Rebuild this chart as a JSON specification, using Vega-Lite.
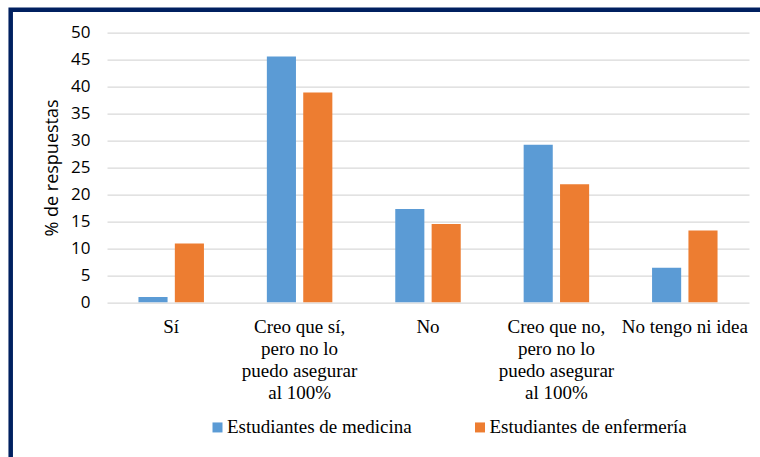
{
  "$schema": "https://vega.github.io/schema/vega-lite/v6.json",
  "autosize": "none",
  "padding": {"left": 10.7, "top": 9.7, "right": -20, "bottom": -20},
  "width": 769.3,
  "height": 467.3,
  "background": "white",
  "config": {
    "view": {"stroke": "#002060", "strokeWidth": 4.5, "fill": "white"}
  },
  "data": {
    "values": [
      {"respuesta": "Sí", "grupo": "Estudiantes de medicina", "pct": 1.0},
      {"respuesta": "Sí", "grupo": "Estudiantes de enfermería", "pct": 10.9},
      {"respuesta": "Creo que sí, pero no lo puedo asegurar al 100%", "grupo": "Estudiantes de medicina", "pct": 45.6},
      {"respuesta": "Creo que sí, pero no lo puedo asegurar al 100%", "grupo": "Estudiantes de enfermería", "pct": 38.9},
      {"respuesta": "No", "grupo": "Estudiantes de medicina", "pct": 17.3},
      {"respuesta": "No", "grupo": "Estudiantes de enfermería", "pct": 14.5},
      {"respuesta": "Creo que no, pero no lo puedo asegurar al 100%", "grupo": "Estudiantes de medicina", "pct": 29.2},
      {"respuesta": "Creo que no, pero no lo puedo asegurar al 100%", "grupo": "Estudiantes de enfermería", "pct": 21.9},
      {"respuesta": "No tengo ni idea", "grupo": "Estudiantes de medicina", "pct": 6.4},
      {"respuesta": "No tengo ni idea", "grupo": "Estudiantes de enfermería", "pct": 13.3}
    ]
  },
  "mark": {"type": "bar"},
  "encoding": {
    "x": {
      "field": "respuesta",
      "type": "nominal",
      "sort": ["Sí", "Creo que sí, pero no lo puedo asegurar al 100%", "No", "Creo que no, pero no lo puedo asegurar al 100%", "No tengo ni idea"],
      "scale": {"range": [96.3, 738.3], "paddingInner": 0.49, "paddingOuter": 0.245},
      "axis": {
        "title": null,
        "offset": -174.7,
        "domain": false,
        "ticks": false,
        "tickSize": 0,
        "grid": false,
        "labelAngle": 0,
        "labelFont": "Liberation Serif, Times New Roman, serif",
        "labelFontSize": 19,
        "labelColor": "#000000",
        "labelLineHeight": 22,
        "labelPadding": 15,
        "labelLimit": 0,
        "labelExpr": "datum.value == 'Creo que sí, pero no lo puedo asegurar al 100%' ? ['Creo que sí,', 'pero no lo', 'puedo asegurar', 'al 100%'] : datum.value == 'Creo que no, pero no lo puedo asegurar al 100%' ? ['Creo que no,', 'pero no lo', 'puedo asegurar', 'al 100%'] : datum.label"
      }
    },
    "xOffset": {
      "field": "grupo",
      "type": "nominal",
      "sort": ["Estudiantes de medicina", "Estudiantes de enfermería"],
      "scale": {"paddingInner": 0.2, "paddingOuter": 0}
    },
    "y": {
      "field": "pct",
      "type": "quantitative",
      "scale": {"domain": [0, 50], "range": [292.6, 23], "nice": false},
      "axis": {
        "title": "% de respuestas",
        "titleFont": "Open Sans",
        "titleFontSize": 18,
        "titleFontWeight": "normal",
        "titleColor": "#000000",
        "titlePadding": 9,
        "offset": -96.3,
        "values": [0, 5, 10, 15, 20, 25, 30, 35, 40, 45, 50],
        "domain": false,
        "ticks": false,
        "tickSize": 0,
        "grid": true,
        "gridColor": "#d9d9d9",
        "gridWidth": 1.3,
        "labelFont": "Open Sans",
        "labelFontSize": 17,
        "labelColor": "#000000",
        "labelPadding": 17
      }
    },
    "color": {
      "field": "grupo",
      "type": "nominal",
      "sort": ["Estudiantes de medicina", "Estudiantes de enfermería"],
      "scale": {"range": ["#5b9bd5", "#ed7d31"]},
      "legend": {
        "title": null,
        "orient": "none",
        "direction": "horizontal",
        "legendX": 197.3,
        "legendY": 408,
        "padding": 0,
        "symbolType": "square",
        "symbolSize": 100,
        "symbolStrokeWidth": 0,
        "labelOffset": 0,
        "columnPadding": 58.5,
        "labelFont": "Liberation Serif, Times New Roman, serif",
        "labelFontSize": 19,
        "labelColor": "#000000",
        "labelLimit": 0
      }
    }
  }
}
